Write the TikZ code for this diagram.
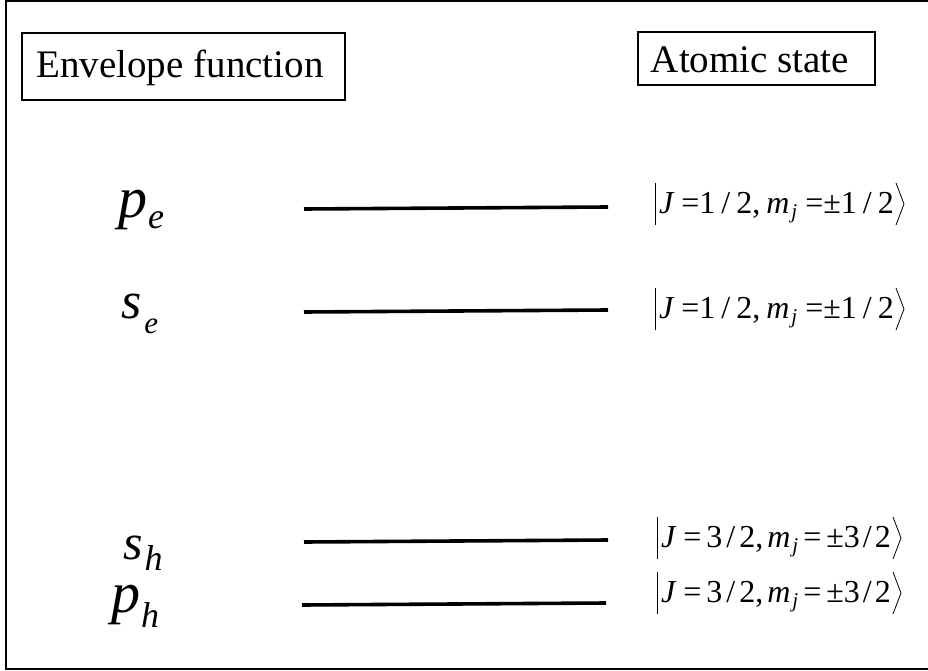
\documentclass[tikz,border=0pt]{standalone}
\usepackage{fontspec}
\setmainfont{Liberation Serif}
\usetikzlibrary{calc}
\tikzset{
  frame/.style={line width=1.6pt, black},
  titlebox/.style={draw, line width=1.1pt},
  titletext/.style={inner sep=0pt, anchor=base, font=\fontsize{39}{39}\selectfont},
  level/.style={line width=3.6pt, black},
  lbl/.style={inner sep=0pt, anchor=base west},
  kettext/.style={inner sep=0pt, anchor=base west, font=\fontsize{32}{32}\selectfont},
  ketline/.style={line width=0.8pt}
}
\newcommand{\lgsym}[2]{{\fontsize{#2}{#2}\selectfont\itshape #1}}
\newcommand{\smsub}[3]{\raisebox{-#2pt}{\fontsize{#3}{#3}\selectfont\itshape #1}}
\newcommand{\subj}{\kern2pt\raisebox{-5pt}{\fontsize{21}{21}\selectfont\itshape j}}
\newcommand{\myket}[4]{%
  \node[kettext] (#1) at (#2,#3) {#4};
  \draw[ketline] ($(#1.base west)+(-4,-30)$) -- ($(#1.base west)+(-4,12)$);
  \draw[ketline] ($(#1.base east)+(2,-30)$) -- ($(#1.base east)+(10,-9)$) -- ($(#1.base east)+(2,12)$);
}
\begin{document}
\begin{tikzpicture}[x=1pt,y=-1pt]
\useasboundingbox (0,0) rectangle (928,671);
% outer frame (right side cut off)
\draw[frame] (930,1) -- (6,1) -- (6,669) -- (930,669);
% title boxes
\draw[titlebox] (22,33) rectangle (345,100);
\node[titletext] (env) at (180,78) {Envelope function};
\draw[titlebox] (638,32) rectangle (875,85);
\node[titletext] (atom) at (750,73) {Atomic state};
% envelope labels
\node[lbl] (pe) at (118,217) {\lgsym{p}{58}\kern1pt\smsub{e}{11}{36}};
\node[lbl] (se) at (121,318) {\lgsym{s}{52}\kern3pt\smsub{e}{15}{31}};
\node[lbl] (sh) at (123,559) {\lgsym{s}{50}\kern2pt\smsub{h}{11}{36}};
\node[lbl] (ph) at (111,612) {\lgsym{p}{58}\kern1pt\smsub{h}{15}{36}};
% levels
\draw[level] (304,209) -- (608,207);
\draw[level] (304,312) -- (608,310);
\draw[level] (304,542) -- (608,540);
\draw[level] (302,605) -- (606,603);
% atomic states
\myket{k1}{659}{213}{{\itshape J} =1\kern6pt/\kern6pt2,\kern6pt{\itshape m}\subj\ =±1\kern6pt/\kern6pt2}
\myket{k2}{659}{318}{{\itshape J} =1\kern6pt/\kern6pt2,\kern6pt{\itshape m}\subj\ =±1\kern6pt/\kern6pt2}
\myket{k3}{661}{547}{{\itshape J}\kern8pt=\kern5pt3\kern4pt/\kern4pt2,\kern4pt{\itshape m}\subj\kern5pt=\kern5pt±3\kern3pt/\kern3pt2}
\myket{k4}{661}{602}{{\itshape J}\kern8pt=\kern5pt3\kern4pt/\kern4pt2,\kern4pt{\itshape m}\subj\kern5pt=\kern5pt±3\kern3pt/\kern3pt2}
\end{tikzpicture}
\end{document}
